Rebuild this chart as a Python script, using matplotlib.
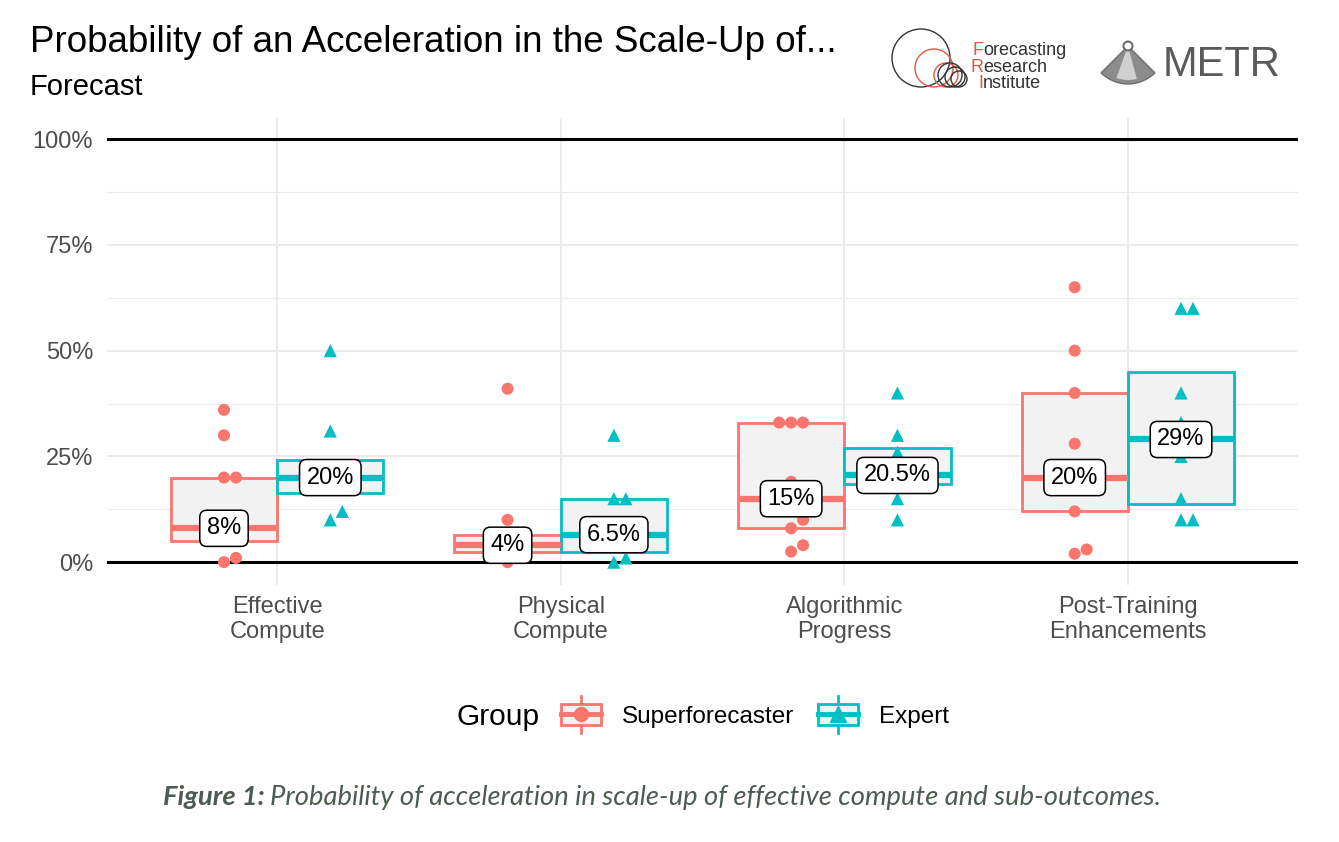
import numpy as np
import matplotlib.pyplot as plt
from matplotlib.patches import Rectangle, Circle, Wedge
from matplotlib.lines import Line2D
from matplotlib.legend_handler import HandlerBase

plt.rcParams['font.family'] = ['Liberation Sans', 'DejaVu Sans']

# ---- data ----
categories = ["Effective\nCompute", "Physical\nCompute",
              "Algorithmic\nProgress", "Post-Training\nEnhancements"]

# individual forecasts (%), points near the median sit under the labels
sf_points = [
    [0, 1, 8, 20, 20, 30, 36],
    [0, 4, 10, 41],
    [2.5, 4, 8, 10, 15, 19, 33, 33, 33],
    [2, 3, 12, 20, 28, 40, 50, 65],
]
ex_points = [
    [10, 12, 20, 31, 50],
    [0, 1, 6.5, 15, 15, 30],
    [10, 15, 20.5, 26, 30, 40],
    [10, 10, 15, 25, 29, 33, 40, 60, 60],
]

# box statistics (%)
sf_q1 = [5, 2.5, 8, 12]
sf_med = [8, 4, 15, 20]
sf_q3 = [20, 6.5, 33, 40]
ex_q1 = [16.25, 2.5, 18.5, 13.75]
ex_med = [20, 6.5, 20.5, 29]
ex_q3 = [24.25, 15, 27, 45]

sf_labels = ["8%", "4%", "15%", "20%"]
ex_labels = ["20%", "6.5%", "20.5%", "29%"]

SF_COL = "#F8766D"
EX_COL = "#00BFC4"

W, H = 1339, 842
fig = plt.figure(figsize=(W / 100, H / 100), dpi=100)
ax = fig.add_axes([107 / W, 1 - 585 / H, (1298 - 107) / W, (585 - 118) / H])

PX_X = 284.0   # pixels per category unit
PX_Y = 4.23    # pixels per percent


def swarm(vals, d=12.0):
    # simple beeswarm: ascending order, nearest free slot to the centre
    order = np.argsort(vals, kind="stable")
    offs = np.zeros(len(vals))
    placed = []
    cands = [0]
    for k in range(1, 6):
        cands += [k * d, -k * d]
    for i in order:
        v = vals[i]
        for c in cands:
            ok = all(np.hypot(c - ox, (v - oy) * PX_Y) >= d for ox, oy in placed)
            if ok:
                break
        placed.append((c, v))
        offs[i] = c / PX_X
    return offs


bw = 0.375
pos = np.arange(1, len(categories) + 1)

for group, (pts, q1, med, q3, col, mk, labs, sh) in enumerate([
        (sf_points, sf_q1, sf_med, sf_q3, SF_COL, "o", sf_labels, -bw / 2),
        (ex_points, ex_q1, ex_med, ex_q3, EX_COL, "^", ex_labels, bw / 2)]):
    stats = [dict(med=m, q1=a, q3=b, whislo=a, whishi=b, fliers=[])
             for a, m, b in zip(q1, med, q3)]
    ax.bxp(stats, positions=pos + sh, widths=bw, patch_artist=True,
           showcaps=False, showfliers=False,
           boxprops=dict(facecolor="#F2F2F2", edgecolor=col, linewidth=2),
           medianprops=dict(color=col, linewidth=4.5, solid_capstyle="butt"),
           whiskerprops=dict(color=col, linewidth=0), zorder=2)
    for i, vals in enumerate(pts):
        vals = np.array(vals, dtype=float)
        xo = swarm(vals)
        ax.scatter(pos[i] + sh + xo, vals, s=75 if mk == "o" else 90,
                   marker=mk, color=col, edgecolors="none", zorder=3)
        ax.text(pos[i] + sh, med[i], labs[i], ha="center", va="center",
                fontsize=17, color="black", zorder=5,
                bbox=dict(boxstyle="round,pad=0.3,rounding_size=0.3",
                          fc="white", ec="black", lw=1.1))

ax.set_xlim(0.4, 4.6)
ax.set_ylim(-5.4, 105)
ax.set_xticks(pos)
ax.set_xticklabels(categories, fontsize=17, color="#4D4D4D", linespacing=1.15)
ax.set_yticks([0, 25, 50, 75, 100])
ax.set_yticklabels(["0%", "25%", "50%", "75%", "100%"], fontsize=17, color="#4D4D4D")
ax.set_yticks([12.5, 37.5, 62.5, 87.5], minor=True)
ax.tick_params(axis="both", which="both", length=0)
ax.tick_params(axis="y", pad=10)
ax.tick_params(axis="x", pad=8)
ax.grid(True, which="major", color="#EBEBEB", linewidth=1.4)
ax.grid(True, which="minor", axis="y", color="#EBEBEB", linewidth=0.8)
ax.set_axisbelow(True)
for s in ax.spines.values():
    s.set_visible(False)
ax.axhline(0, color="black", linewidth=2.2, zorder=1.5)
ax.axhline(100, color="black", linewidth=2.2, zorder=1.5)

# ---- titles ----
fig.text(30 / W, 1 - 43 / H, "Probability of an Acceleration in the Scale-Up of...",
         fontsize=26.5, va="center", ha="left")
fig.text(30 / W, 1 - 87 / H, "Forecast", fontsize=21, va="center", ha="left")


# ---- legend ----
class BoxKey(HandlerBase):
    def __init__(self, color, marker):
        super().__init__()
        self.color = color
        self.marker = marker

    def create_artists(self, legend, orig_handle, xdescent, ydescent,
                       width, height, fontsize, trans):
        cx = width / 2 - xdescent
        cy = height / 2 - ydescent
        bh = height * 1.25
        wl = Line2D([cx, cx], [cy - bh * 0.85, cy + bh * 0.85], color=self.color,
                    lw=2, transform=trans)
        r = Rectangle((-xdescent, cy - bh / 2), width, bh, fc="#F2F2F2",
                      ec=self.color, lw=2, transform=trans)
        md = Line2D([-xdescent, width - xdescent], [cy, cy], color=self.color,
                    lw=3.5, transform=trans)
        mk = Line2D([cx], [cy], marker=self.marker, color=self.color,
                    markersize=10 if self.marker == "o" else 11, lw=0,
                    transform=trans)
        return [wl, r, md, mk]


h_sf = Rectangle((0, 0), 1, 1)
h_ex = Rectangle((0, 0), 1.0, 1.0)
fig.text(457 / W, 1 - 717 / H, "Group", fontsize=21.5, va="center", ha="left")
fig.legend([h_sf, h_ex], ["Superforecaster", "Expert"],
           handler_map={h_sf: BoxKey(SF_COL, "o"), h_ex: BoxKey(EX_COL, "^")},
           loc="center left", bbox_to_anchor=(561 / W, 1 - 717 / H),
           ncol=2, frameon=False, fontsize=17.5, handlelength=1.65,
           handletextpad=0.85, columnspacing=1.0, borderpad=0, borderaxespad=0)

# ---- caption ----
cap_col = "#4B5D4E"
fig.text(163 / W, 1 - 797 / H, "Figure 1:", fontsize=19.7, style="italic",
         weight="bold", color=cap_col, va="center", ha="left", family="Lato")
fig.text(270 / W, 1 - 797 / H,
         "Probability of acceleration in scale-up of effective compute and sub-outcomes.",
         fontsize=19.7, style="italic", color=cap_col, va="center", ha="left",
         family="Lato")

# ---- logos (approximate) ----
lg = fig.add_axes([0, 0, 1, 1])
lg.set_xlim(0, W)
lg.set_ylim(H, 0)
lg.axis("off")
red = "#E0583F"
dark = "#333333"
lg.add_patch(Circle((921, 58), 29, fill=False, ec=dark, lw=1.0))
lg.add_patch(Circle((934, 68), 19, fill=False, ec=red, lw=1.0))
lg.add_patch(Circle((946, 75), 12, fill=False, ec=red, lw=1.0))
for cx, r in [(950, 12), (955, 10), (959, 8)]:
    lg.add_patch(Circle((cx, 87 - r), r, fill=False, ec=dark, lw=1.0))
# red initials in one column, the rest of each word right after them
lg.text(983, 67, "F\nR\nI", fontsize=13, color=red, va="center", ha="right",
        multialignment="right", linespacing=0.98)
lg.text(983, 67, "orecasting\nesearch\nnstitute", fontsize=13, color=dark,
        va="center", ha="left", linespacing=0.98)

lg.add_patch(Wedge((1128, 46), 38, 45, 135, fc="#8C8C8C", ec="#6E6E6E", lw=1))
lg.add_patch(Wedge((1128, 46), 34, 75, 110, fc="#D0D0D0", ec="none"))
lg.add_patch(Circle((1128, 46), 4.5, fc="white", ec="#6E6E6E", lw=1.5))
lg.text(1163, 65, "METR", fontsize=30, color="#5A5A5A", va="center", ha="left")

fig.savefig("out.png", dpi=100)
